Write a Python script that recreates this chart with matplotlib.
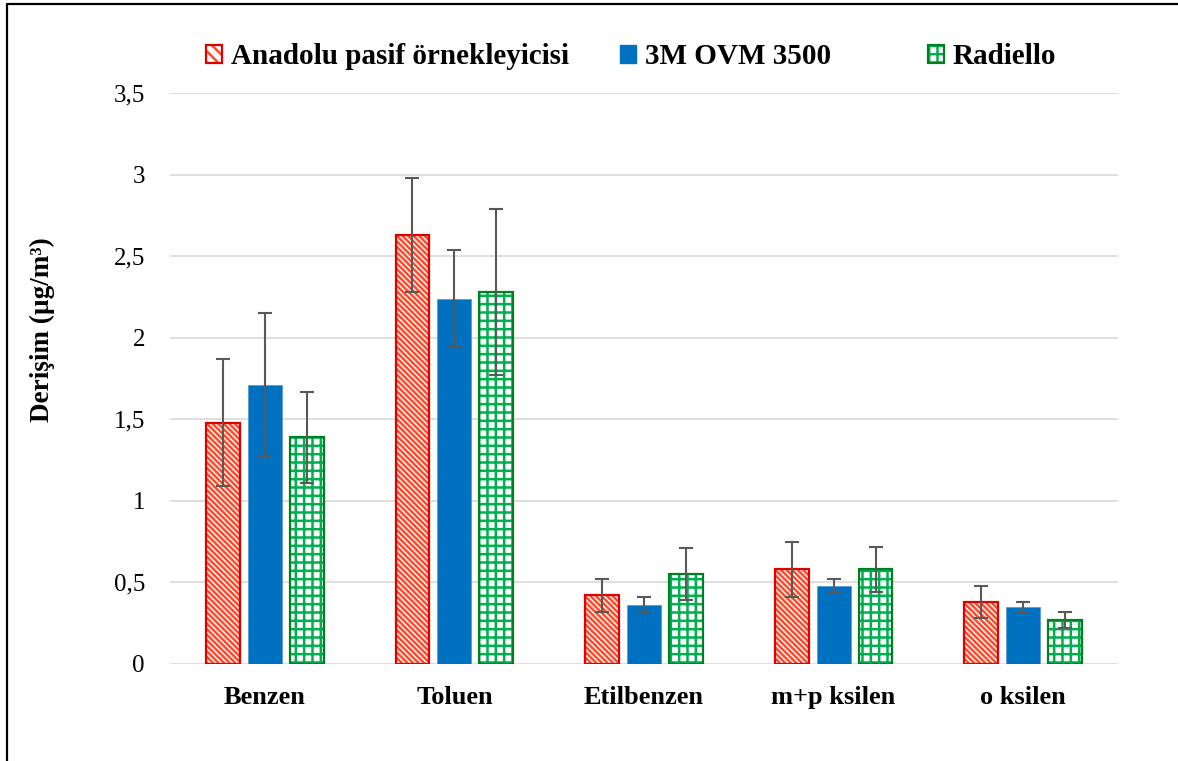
import matplotlib
matplotlib.use("Agg")
import matplotlib.pyplot as plt
from matplotlib.patches import Patch
from matplotlib.lines import Line2D
from matplotlib.ticker import FixedLocator, FuncFormatter
import numpy as np

categories = ["Benzen", "Toluen", "Etilbenzen", "m+p ksilen", "o ksilen"]
series = ["Anadolu pasif örnekleyicisi", "3M OVM 3500", "Radiello"]
anadolu = [1.48, 2.63, 0.42, 0.58, 0.38]
anadolu_err = [0.39, 0.35, 0.10, 0.17, 0.10]
ovm = [1.71, 2.24, 0.36, 0.48, 0.35]
ovm_err = [0.44, 0.30, 0.05, 0.04, 0.03]
radiello = [1.39, 2.28, 0.55, 0.58, 0.27]
radiello_err = [0.28, 0.51, 0.16, 0.14, 0.05]
yticks = [0, 0.5, 1, 1.5, 2, 2.5, 3, 3.5]

plt.rcParams["font.family"] = ["Liberation Serif", "DejaVu Serif"]
plt.rcParams["hatch.linewidth"] = 1.8

fig = plt.figure(figsize=(11.78, 7.61), dpi=100)
ax = fig.add_axes([0.1443, 0.1275, 0.8048, 0.7503])

x = np.arange(len(categories))
w = 0.179
step = 0.221
errkw = dict(ecolor="#595959", elinewidth=1.5, capsize=5, capthick=1.5)
red_hatch = "\\" * 6
green_hatch = "++"

# red hatched
ax.bar(x - step, anadolu, w, color="white", edgecolor="#FF4B2B", hatch=red_hatch,
       linewidth=0, zorder=2)
ax.bar(x - step, anadolu, w, color="none", edgecolor="#E00000", linewidth=1.6,
       yerr=anadolu_err, error_kw=errkw, zorder=3)
# blue solid
ax.bar(x, ovm, w, color="#0070C0", edgecolor="#5B9BD5", linewidth=0.6,
       yerr=ovm_err, error_kw=errkw, zorder=3)
# green checkered
ax.bar(x + step, radiello, w, color="white", edgecolor="#00B050", hatch=green_hatch,
       linewidth=0, zorder=2)
ax.bar(x + step, radiello, w, color="none", edgecolor="#00801E", linewidth=1.6,
       yerr=radiello_err, error_kw=errkw, zorder=3)

ax.set_xlim(-0.5, len(categories) - 0.5)
ax.set_ylim(0, 3.5)
ax.yaxis.set_major_locator(FixedLocator(yticks))
ax.yaxis.set_major_formatter(FuncFormatter(lambda v, p: ("%g" % v).replace(".", ",")))
ax.set_xticks(x)
ax.set_xticklabels(categories, fontsize=19, fontweight="bold")
ax.tick_params(axis="y", length=0, pad=18, labelsize=18)
ax.tick_params(axis="x", length=0, pad=16)
ax.grid(axis="y", color="#D9D9D9", linewidth=1.2, zorder=0)
ax.set_axisbelow(True)
for s in ax.spines.values():
    s.set_visible(False)

ax.set_ylabel("Derişim (µg/m³)", fontsize=19.5, fontweight="bold")
ax.yaxis.set_label_coords(-0.121, 0.585)

# legend, one entry per column as in the original
red_h = (Patch(facecolor="white", edgecolor="#FF4B2B", hatch="\\\\\\", linewidth=0),
         Patch(facecolor="none", edgecolor="#E00000", linewidth=1.6))
blue_h = Patch(facecolor="#0070C0", edgecolor="#0070C0")
green_h = (Patch(facecolor="white", edgecolor="#00B050", hatch="++", linewidth=0),
           Patch(facecolor="none", edgecolor="#00801E", linewidth=1.6))
handles = [red_h, blue_h, green_h]
xpos = [206, 620, 928]
for h, lab, xp in zip(handles, series, xpos):
    leg = fig.legend([h], [lab], loc="center left",
                     bbox_to_anchor=(xp / 1178, 1 - 57 / 761),
                     frameon=False, handlelength=0.55, handleheight=0.55,
                     handletextpad=0.3, borderpad=0, borderaxespad=0,
                     prop=dict(size=21, weight="bold"))

# outer frame (top and left edges visible)
fig.add_artist(Line2D([7 / 1178, 7 / 1178, 1.0], [0.0, 1 - 4 / 761, 1 - 4 / 761],
                      color="black", linewidth=1.6, transform=fig.transFigure))

fig.savefig("out.png", dpi=100)
